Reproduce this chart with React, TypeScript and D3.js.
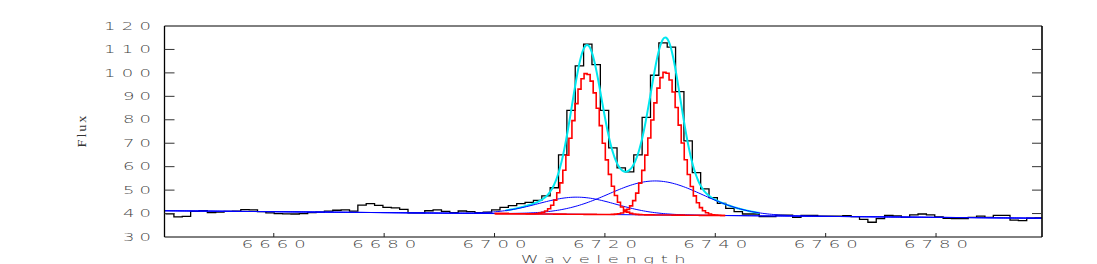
import React from 'react';
import * as d3 from 'd3';

// ---- data ----
const wavelengthRange = [6640.2, 6799.2];
const fluxRange = [30, 120];
const binStart = 6640.39;
const binWidth = 1.515;
const flux = [
  39.9, 38.6, 38.8, 40.9, 41.2, 40.4, 40.6, 40.9, 41.0, 41.7,
  41.6, 40.8, 40.3, 40.0, 39.9, 39.8, 40.0, 40.4, 40.6, 41.0,
  41.4, 41.6, 41.0, 43.6, 44.2, 43.5, 42.6, 42.4, 41.8, 40.3,
  40.3, 41.2, 41.6, 40.9, 40.4, 41.1, 40.8, 40.4, 40.6, 41.6,
  42.6, 43.4, 44.2, 44.8, 45.6, 47.5, 51.0, 65.0, 84.0, 103.0,
  112.3, 103.5, 84.0, 68.0, 59.5, 57.8, 65.0, 81.0, 99.0, 112.8,
  111.0, 92.0, 71.0, 57.5, 50.5, 46.8, 44.3, 42.2, 40.8, 39.8,
  39.8, 38.7, 38.7, 39.3, 39.3, 38.4, 39.2, 39.2, 38.9, 38.9,
  38.9, 39.1, 38.7, 37.5, 36.3, 37.8, 39.2, 39.0, 38.4, 39.4,
  39.8, 39.4, 38.6, 38.0, 37.8, 37.9, 38.4, 38.9, 38.4, 39.2,
  39.2, 37.2, 37.0, 38.0, 38.2,
];
const continuumFlux = [41.2, 38.0];
const narrowCenter = [6716.7, 6731.0];
const narrowAmp = [60.2, 61.0];
const narrowSigma = [2.65, 2.65];
const broadCenter = [6715.0, 6729.2];
const broadAmp = [7.3, 14.5];
const broadSigma = [7.0, 8.5];
const fitWindow = [6702, 6748];
const narrowWindow = [6700, 6742];
const xTicks = [6660, 6680, 6700, 6720, 6740, 6760, 6780];
const yTicks = [30, 40, 50, 60, 70, 80, 90, 100, 110, 120];
const xTitle = 'Wavelength';
const yTitle = 'Flux';

// ---- layout ----
const W = 1097, H = 264;
const L = 164.5, R = 1042, T = 26, B = 237;

const x = d3.scaleLinear().domain(wavelengthRange).range([L, R]);
const y = d3.scaleLinear().domain(fluxRange).range([B, T]);

const cont = (w: number) =>
  continuumFlux[0] + (continuumFlux[1] - continuumFlux[0]) * (w - wavelengthRange[0]) / (wavelengthRange[1] - wavelengthRange[0]);
const gauss = (w: number, c: number, a: number, s: number) => a * Math.exp(-0.5 * ((w - c) / s) ** 2);
const total = (w: number) =>
  cont(w) +
  narrowCenter.reduce((s, c, i) => s + gauss(w, c, narrowAmp[i], narrowSigma[i]), 0) +
  broadCenter.reduce((s, c, i) => s + gauss(w, c, broadAmp[i], broadSigma[i]), 0);

const FONT = "'DejaVu Sans', sans-serif";

function WideText({ px, py, text, len, anchor, size, sx, rotate, family, fill, weight }: any) {
  const tr = `translate(${px},${py})${rotate ? ` rotate(${rotate})` : ''} scale(${sx},1)`;
  return (
    <text transform={tr} textAnchor={anchor} fontSize={size} fontFamily={family || FONT}
      fontWeight={weight || 300}
      textLength={len / sx} lengthAdjust="spacing" fill={fill || '#444'}>{text}</text>
  );
}

export default function App() {
  const pts: [number, number][] = flux.map((v, i) => [binStart + i * binWidth, v]);
  pts.push([binStart + flux.length * binWidth, flux[flux.length - 1]]);
  const histPath = d3.line<[number, number]>().x(d => x(d[0])).y(d => y(d[1])).curve(d3.curveStepAfter)(pts) || '';

  const fine = d3.range(wavelengthRange[0], wavelengthRange[1] + 0.01, 0.4);
  const smooth = d3.line<number>().x(w => x(w)).curve(d3.curveMonotoneX);

  const contPath = d3.line<number>().x(w => x(w)).y(w => y(cont(w)))(wavelengthRange) || '';
  const broadPaths = broadCenter.map((c, i) =>
    smooth.y(w => y(cont(w) + gauss(w, c, broadAmp[i], broadSigma[i])))(fine) || '');

  const narrowGrid = d3.range(narrowWindow[0], narrowWindow[1] + 0.01, 0.55);
  const narrowPaths = narrowCenter.map((c, i) =>
    d3.line<number>().x(w => x(w)).y(w => y(cont(w) + gauss(w, c, narrowAmp[i], narrowSigma[i])))
      .curve(d3.curveStep)(narrowGrid) || '');

  const fitGrid = d3.range(fitWindow[0], fitWindow[1] + 0.01, 0.25);
  const totalPath = d3.line<number>().x(w => x(w)).y(w => y(total(w))).curve(d3.curveMonotoneX)(fitGrid) || '';

  return (
    <svg width={W} height={H} style={{ position: 'absolute', left: 0, top: 0, background: '#fff' }}>
      <rect x={0} y={0} width={W} height={H} fill="#fff" />
      <defs>
        <clipPath id="plotClip"><rect x={L} y={T} width={R - L} height={B - T} /></clipPath>
      </defs>
      <g clipPath="url(#plotClip)" fill="none">
        <path d={histPath} stroke="#000" strokeWidth={1.3} />
        <path d={totalPath} stroke="#00e8f0" strokeWidth={2} />
        <path d={contPath} stroke="#0000ff" strokeWidth={1} />
        {broadPaths.map((d, i) => <path key={'b' + i} d={d} stroke="#0000ff" strokeWidth={1} />)}
        {narrowPaths.map((d, i) => <path key={'n' + i} d={d} stroke="#ff0000" strokeWidth={1.6} />)}
      </g>
      <line x1={L} x2={R} y1={T} y2={T} stroke="#000" strokeWidth={1} />
      <line x1={L} x2={R} y1={B} y2={B} stroke="#000" strokeWidth={1} />
      <line x1={L} x2={L} y1={T} y2={B} stroke="#000" strokeWidth={1.3} />
      <line x1={R} x2={R} y1={T} y2={B} stroke="#000" strokeWidth={1.6} />
      {yTicks.map(t => (
        <g key={'y' + t}>
          {t > fluxRange[0] && t < fluxRange[1] && (
            <>
              <line x1={L} x2={L + 10} y1={y(t)} y2={y(t)} stroke="#333" strokeWidth={1} />
              <line x1={R - 10} x2={R} y1={y(t)} y2={y(t)} stroke="#333" strokeWidth={1} />
            </>
          )}
          <WideText px={151} py={y(t) + 3.7} text={String(t)} len={19 * String(t).length - 10}
            anchor="end" size={10} sx={1.8} />
        </g>
      ))}
      {xTicks.map(t => (
        <g key={'x' + t}>
          <line x1={x(t)} x2={x(t)} y1={B} y2={B - 4} stroke="#222" strokeWidth={1} />
          <WideText px={x(t)} py={247.5} text={String(t)} len={64} anchor="middle" size={10} sx={1.8} />
        </g>
      ))}
      <WideText px={(L + R) / 2} py={262.5} text={xTitle} len={165} anchor="middle" size={10} sx={1.8} />
      <WideText px={86} py={(T + B) / 2} text={yTitle} len={32} anchor="middle" size={13} sx={1.1}
        rotate={-90} family="'Liberation Serif', serif" weight={400} fill="#333" />
    </svg>
  );
}
